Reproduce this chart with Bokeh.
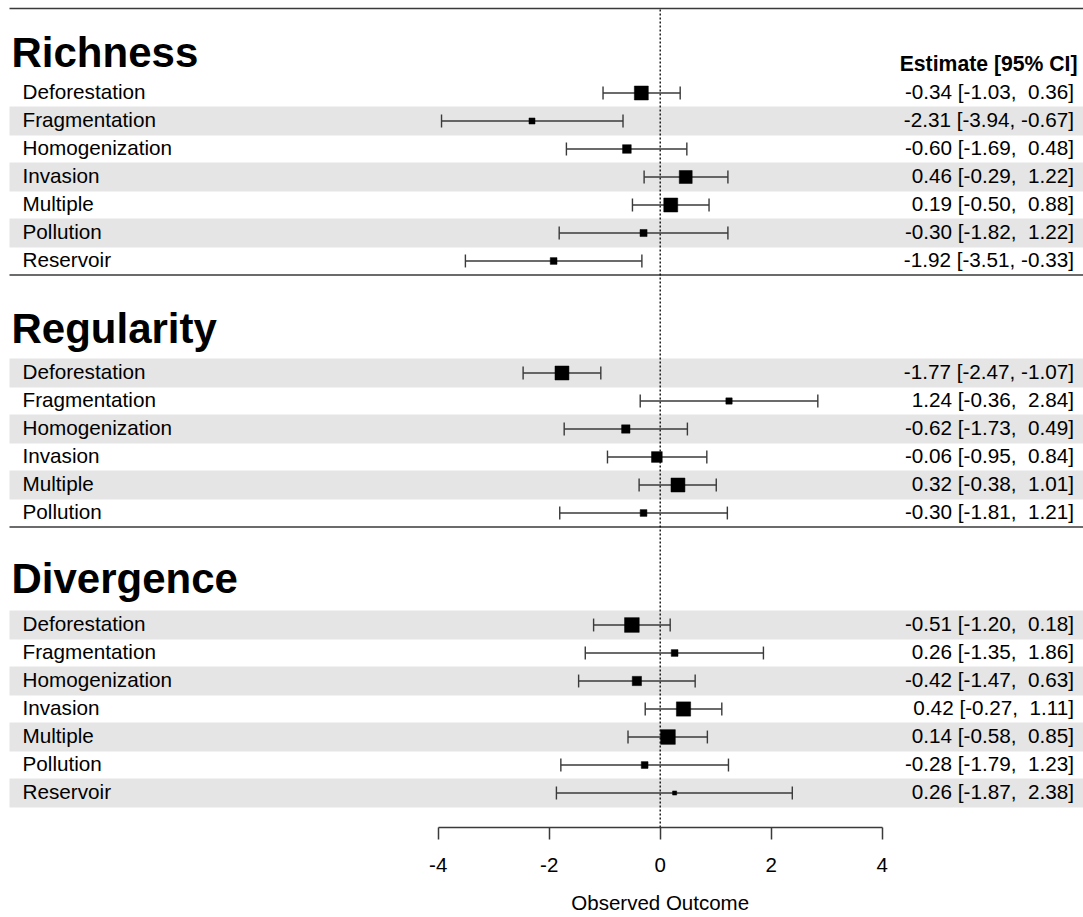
from bokeh.plotting import figure
from bokeh.layouts import column
from bokeh.models import Range1d, LinearAxis, FixedTicker, ColumnDataSource
from bokeh.core.properties import value
from bokeh.embed import file_html
from bokeh.resources import INLINE

# ---------------- data ----------------
groups = ["Richness", "Regularity", "Divergence"]

richness_labels = ["Deforestation", "Fragmentation", "Homogenization", "Invasion",
                   "Multiple", "Pollution", "Reservoir"]
richness_est = [-0.34, -2.31, -0.60, 0.46, 0.19, -0.30, -1.92]
richness_lo = [-1.03, -3.94, -1.69, -0.29, -0.50, -1.82, -3.51]
richness_hi = [0.36, -0.67, 0.48, 1.22, 0.88, 1.22, -0.33]
richness_weight = [0.95, 0.41, 0.59, 0.88, 0.95, 0.48, 0.46]

regularity_labels = ["Deforestation", "Fragmentation", "Homogenization", "Invasion",
                     "Multiple", "Pollution"]
regularity_est = [-1.77, 1.24, -0.62, -0.06, 0.32, -0.30]
regularity_lo = [-2.47, -0.36, -1.73, -0.95, -0.38, -1.81]
regularity_hi = [-1.07, 2.84, 0.49, 0.84, 1.01, 1.21]
regularity_weight = [0.95, 0.43, 0.57, 0.73, 0.95, 0.46]

divergence_labels = ["Deforestation", "Fragmentation", "Homogenization", "Invasion",
                     "Multiple", "Pollution", "Reservoir"]
divergence_est = [-0.51, 0.26, -0.42, 0.42, 0.14, -0.28, 0.26]
divergence_lo = [-1.20, -1.35, -1.47, -0.27, -0.58, -1.79, -1.87]
divergence_hi = [0.18, 1.86, 0.63, 1.11, 0.85, 1.23, 2.38]
divergence_weight = [1.0, 0.46, 0.63, 0.97, 1.0, 0.46, 0.28]

tick_values = [-4, -2, 0, 2, 4]
tick_labels = ["-4", "-2", "0", "2", "4"]
x_title = "Observed Outcome"
est_header = "Estimate [95% CI]"

group_data = [
    (richness_labels, richness_est, richness_lo, richness_hi, richness_weight),
    (regularity_labels, regularity_est, regularity_lo, regularity_hi, regularity_weight),
    (divergence_labels, divergence_est, divergence_lo, divergence_hi, divergence_weight),
]

# ---------------- layout / style ----------------
FONT = "Liberation Sans"
W = 1083
H_MAIN, H_TITLE = 880, 37
PX_PER_UNIT = 55.5
ZERO_PX = 659.7          # x=0 position within the figure (px)
ROW_PX = 28.0
FRAME_H = 827
BOTTOM = H_MAIN - FRAME_H
X0 = -ZERO_PX / PX_PER_UNIT
X1 = (W - ZERO_PX) / PX_PER_UNIT
Y0 = -0.232
Y1 = Y0 + FRAME_H / ROW_PX
TOP_RULE = Y1 - 8 / ROW_PX

def px2x(px):
    return (px - ZERO_PX) / PX_PER_UNIT

SHADE_FIRST = [False, True, True]
TITLE_OFFSETS = [1.455, 1.59, 1.66]
HEADER_OFFSET = 1.05
TEXT_NUDGE = 0.07
MAX_SQ = 14.7
BAND = "#e5e5e5"
LINE = "#3a3a3a"

x_range = Range1d(X0, X1)
p = figure(width=W, height=H_MAIN, x_range=x_range, y_range=Range1d(Y0, Y1),
           x_axis_type=None, y_axis_type=None, output_backend="svg",
           toolbar_location=None, min_border_left=0, min_border_right=0,
           min_border_top=0, min_border_bottom=BOTTOM)
p.outline_line_color = None
p.grid.visible = False
p.background_fill_color = "white"

label_x = px2x(22)
title_x = px2x(11)
band_left = px2x(9)
ci_x = px2x(1073.5)
header_x = px2x(1077)

rows_y, rows_est, rows_lo, rows_hi, rows_size, rows_lab, rows_ci = [], [], [], [], [], [], []
band_y = []
title_y, sep_y = [], []
y_start = 26
for gi, (labs, est, lo, hi, wt) in enumerate(group_data):
    for i in range(len(labs)):
        y = y_start - i
        rows_y.append(y)
        rows_est.append(est[i])
        rows_lo.append(lo[i])
        rows_hi.append(hi[i])
        rows_size.append(wt[i] * MAX_SQ)
        rows_lab.append(labs[i])
        rows_ci.append(f"{est[i]:.2f} [{lo[i]:5.2f}, {hi[i]:5.2f}]".replace(" ", "\u00a0"))
        if (i % 2 == 0) == SHADE_FIRST[gi]:
            band_y.append(y)
    title_y.append(y_start + TITLE_OFFSETS[gi])
    last = y_start - len(labs) + 1
    if gi < len(group_data) - 1:
        sep_y.append(last - 0.5)
    y_start = last - 4

# shaded bands
p.quad(left=band_left, right=X1, bottom=[y - 0.52 for y in band_y],
       top=[y + 0.52 for y in band_y], fill_color=BAND, line_color=None)

# top rule and group separators
p.segment(x0=band_left, x1=X1, y0=[TOP_RULE] + sep_y, y1=[TOP_RULE] + sep_y,
          line_color=LINE, line_width=1.6)

# reference line at 0
p.segment(x0=[0], x1=[0], y0=[Y0], y1=[TOP_RULE], line_color="black",
          line_width=1.3, line_dash="2 2")

src = ColumnDataSource(dict(y=rows_y, est=rows_est, lo=rows_lo, hi=rows_hi,
                            size=rows_size, lab=rows_lab, ci=rows_ci,
                            ytxt=[y + TEXT_NUDGE for y in rows_y],
                            yb=[y - 0.23 for y in rows_y], yt=[y + 0.23 for y in rows_y]))
p.segment(x0="lo", x1="hi", y0="y", y1="y", source=src, line_color=LINE, line_width=1.4)
p.segment(x0="lo", x1="lo", y0="yb", y1="yt", source=src, line_color=LINE, line_width=1.4)
p.segment(x0="hi", x1="hi", y0="yb", y1="yt", source=src, line_color=LINE, line_width=1.4)
p.scatter(x="est", y="y", size="size", marker="square", source=src,
          fill_color="black", line_color="black", line_width=0.5)

p.text(x=label_x, y="ytxt", text="lab", source=src, text_font=value(FONT),
       text_font_size="20.7px", text_color="black", text_align="left",
       text_baseline="middle")
p.text(x=ci_x, y="ytxt", text="ci", source=src, text_font=value(FONT),
       text_font_size="20.7px", text_color="black", text_align="right",
       text_baseline="middle")

p.text(x=title_x, y=title_y, text=groups, text_font=value(FONT),
       text_font_size="42px", text_font_style="bold", text_color="black",
       text_align="left", text_baseline="middle")
p.text(x=[header_x], y=[26 + HEADER_OFFSET], text=[est_header], text_font=value(FONT),
       text_font_size="21.2px", text_font_style="bold", text_color="black",
       text_align="right", text_baseline="middle")

ax = LinearAxis(ticker=FixedTicker(ticks=tick_values), bounds=(-4, 4),
                major_label_overrides={v: s for v, s in zip(tick_values, tick_labels)},
                major_tick_out=12, major_tick_in=0, minor_tick_out=0, minor_tick_in=0,
                major_label_standoff=18,
                axis_line_color=LINE, axis_line_width=1.5,
                major_tick_line_color=LINE, major_tick_line_width=1.5,
                major_label_text_font=FONT, major_label_text_font_size="20.5px",
                major_label_text_color="black")
p.add_layout(ax, "below")

# strip under the axis holding the axis title, centred at x = 0
p2 = figure(width=W, height=H_TITLE, x_range=x_range, y_range=Range1d(0, H_TITLE),
            x_axis_type=None, y_axis_type=None, output_backend="svg",
            toolbar_location=None, min_border_left=0, min_border_right=0,
            min_border_top=0, min_border_bottom=0)
p2.outline_line_color = None
p2.grid.visible = False
p2.text(x=[0], y=[15], text=[x_title], text_font=value(FONT),
        text_font_size="20.5px", text_color="black", text_align="center",
        text_baseline="middle")

open("out.html", "w").write(file_html(column(p, p2, spacing=0), INLINE))
